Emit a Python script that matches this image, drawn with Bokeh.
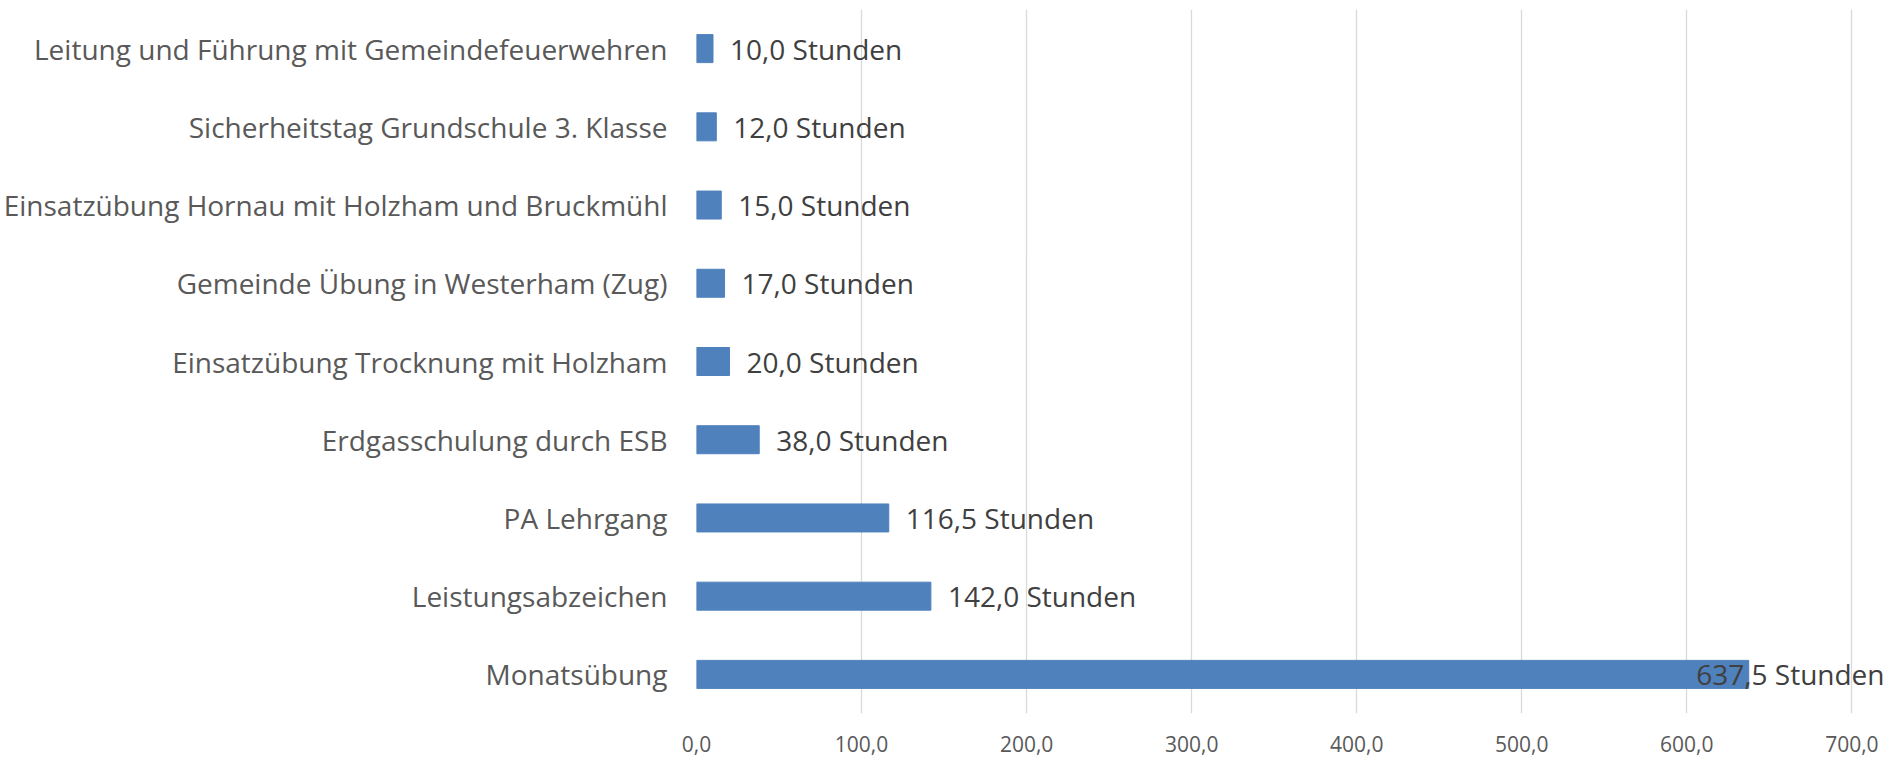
from bokeh.plotting import figure
from bokeh.models import ColumnDataSource, FactorRange, Range1d, FixedTicker, CustomJSTickFormatter
from bokeh.core.properties import value
from bokeh.embed import file_html
from bokeh.resources import INLINE

categories = [
    "Leitung und Führung mit Gemeindefeuerwehren",
    "Sicherheitstag Grundschule 3. Klasse",
    "Einsatzübung Hornau mit Holzham und Bruckmühl",
    "Gemeinde Übung in Westerham (Zug)",
    "Einsatzübung Trocknung mit Holzham",
    "Erdgasschulung durch ESB",
    "PA Lehrgang",
    "Leistungsabzeichen",
    "Monatsübung",
]
hours = [10.0, 12.0, 15.0, 17.0, 20.0, 38.0, 116.5, 142.0, 637.5]
x_ticks = [0, 100, 200, 300, 400, 500, 600, 700]
unit = "Stunden"

FONT = "Open Sans"
X_END = 724

labels = [f"{v:.1f}".replace(".", ",") + " " + unit for v in hours]
src = ColumnDataSource(dict(cat=categories, val=hours, lab=labels))

p = figure(
    width=1891, height=758,
    y_range=FactorRange(factors=list(reversed(categories)), range_padding=0),
    x_range=Range1d(0, X_END),
    output_backend="svg", toolbar_location=None,
    min_border_left=696, min_border_right=0, min_border_top=9, min_border_bottom=45,
)
p.outline_line_color = None
p.background_fill_color = "white"

p.hbar(y="cat", right="val", left=0, height=0.358, source=src,
       fill_color="#4F81BD", line_color="#4F81BD", line_width=1)

inside = [i for i, v in enumerate(hours) if v <= 600]
outside = [i for i, v in enumerate(hours) if v > 600]
src_in = ColumnDataSource(dict(cat=[categories[i] for i in inside],
                               val=[hours[i] for i in inside],
                               lab=[labels[i] for i in inside]))
src_out = ColumnDataSource(dict(cat=[categories[i] for i in outside],
                                val=[X_END for i in outside],
                                lab=[labels[i] for i in outside]))
p.text(x="val", y="cat", text="lab", source=src_in, x_offset=17,
       text_align="left", text_baseline="middle", text_font=value(FONT),
       text_font_size="28px", text_color="#404040")
p.text(x="val", y="cat", text="lab", source=src_out, x_offset=-7,
       text_align="right", text_baseline="middle", text_font=value(FONT),
       text_font_size="28px", text_color="#404040")

# x axis
p.xaxis.ticker = FixedTicker(ticks=x_ticks)
p.xaxis.formatter = CustomJSTickFormatter(code="return tick.toFixed(1).replace('.', ',');")
p.xaxis.axis_line_color = None
p.xaxis.major_tick_line_color = None
p.xaxis.minor_tick_line_color = None
p.xaxis.major_tick_out = 0
p.xaxis.major_tick_in = 0
p.xaxis.major_label_standoff = 22
p.xaxis.major_label_text_font = FONT
p.xaxis.major_label_text_font_size = "21px"
p.xaxis.major_label_text_color = "#595959"

# y axis
p.yaxis.axis_line_color = None
p.yaxis.major_tick_line_color = None
p.yaxis.major_tick_out = 0
p.yaxis.major_tick_in = 0
p.yaxis.major_label_standoff = 29
p.yaxis.major_label_text_font = FONT
p.yaxis.major_label_text_font_size = "28px"
p.yaxis.major_label_text_color = "#595959"

p.ygrid.grid_line_color = None
p.xgrid.grid_line_color = "#D9D9D9"
p.xgrid.grid_line_width = 1.3

open("out.html", "w").write(file_html(p, INLINE))
